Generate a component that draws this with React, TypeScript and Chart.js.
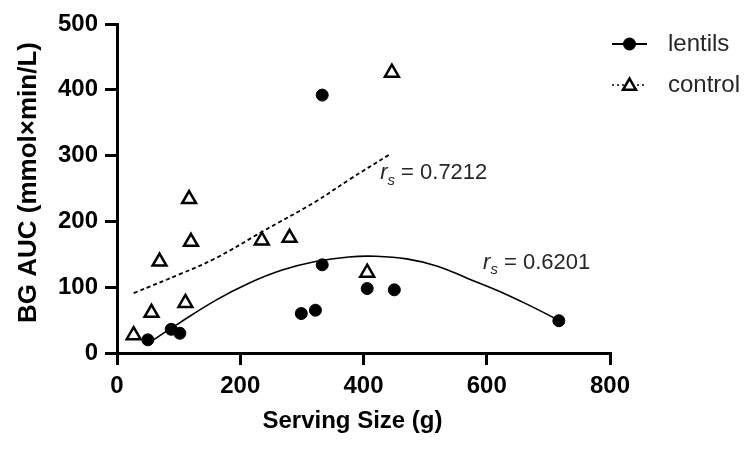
import React, { useEffect, useRef } from "react";
import { Chart, registerables } from "chart.js";

Chart.register(...registerables);

// ---- data ----
const seriesNames = ["lentils", "control"];
const lentilX = [50, 88, 102, 299, 322, 333, 333, 406, 450, 717];
const lentilY = [20, 36, 30, 60, 65, 134, 392, 98, 96, 49];
const controlX = [27, 56, 69, 111, 117, 120, 235, 280, 406, 446];
const controlY = [27, 61, 139, 76, 234, 169, 171, 175, 122, 426];
// fitted curves
const lentilFitX = [51, 95, 160, 214, 268, 322, 376, 420, 470, 520, 570, 620, 670, 712];
const lentilFitY = [15, 42, 80, 106, 126, 139, 146, 147, 143, 132, 113, 94, 72, 52];
const controlFitX = [27, 105, 160, 235, 322, 376, 441];
const controlFitY = [91, 121, 144, 184, 230, 263, 301];
// correlation labels
const rsValues = ["0.7212", "0.6201"];
const rsAnchorX = [427, 594];
const rsAnchorY = [273, 137];
// axes
const xTicks = [0, 200, 400, 600, 800];
const yTicks = [0, 100, 200, 300, 400, 500];
const xTitle = "Serving Size (g)";
const yTitle = "BG AUC (mmol×min/L)";

const FAMILY = "'Liberation Sans', Arial, Helvetica, sans-serif";

const zip = (xs: number[], ys: number[]) => xs.map((x, i) => ({ x, y: ys[i] }));

function drawTriangle(ctx: CanvasRenderingContext2D, x: number, y: number, r: number) {
  ctx.beginPath();
  let rad = 0;
  ctx.moveTo(x + Math.sin(rad) * r, y - Math.cos(rad) * r);
  rad += (2 * Math.PI) / 3;
  ctx.lineTo(x + Math.sin(rad) * r, y - Math.cos(rad) * r);
  rad += (2 * Math.PI) / 3;
  ctx.lineTo(x + Math.sin(rad) * r, y - Math.cos(rad) * r);
  ctx.closePath();
  ctx.fillStyle = "#fff";
  ctx.fill();
  ctx.lineWidth = 2.5;
  ctx.strokeStyle = "#000";
  ctx.stroke();
}

function text(
  ctx: CanvasRenderingContext2D,
  s: string,
  x: number,
  y: number,
  font: string,
  color: string,
  align: CanvasTextAlign = "left"
) {
  ctx.font = font;
  ctx.fillStyle = color;
  ctx.textBaseline = "middle";
  ctx.textAlign = align;
  ctx.fillText(s, x, y);
  return ctx.measureText(s).width;
}

const overlayPlugin = {
  id: "overlay",
  afterDraw(chart: any) {
    const ctx: CanvasRenderingContext2D = chart.ctx;
    const area = chart.chartArea;
    const xs = chart.scales.x;
    const ys = chart.scales.y;
    ctx.save();

    // axis titles
    text(ctx, xTitle, (area.left + area.right) / 2 - 11, 421, `bold 24px ${FAMILY}`, "#000", "center");
    ctx.save();
    ctx.translate(29, (area.top + area.bottom) / 2 - 6);
    ctx.rotate(-Math.PI / 2);
    text(ctx, yTitle, 0, 0, `bold 26px ${FAMILY}`, "#000", "center");
    ctx.restore();

    // legend
    const lx0 = area.right + 2;
    const lx1 = area.right + 37;
    const lmid = (lx0 + lx1) / 2;
    const rowY = [area.top + 20, area.top + 61];
    const textX = area.right + 58;

    ctx.strokeStyle = "#000";
    ctx.lineWidth = 2;
    ctx.setLineDash([]);
    ctx.beginPath();
    ctx.moveTo(lx0, rowY[0]);
    ctx.lineTo(lx1, rowY[0]);
    ctx.stroke();
    ctx.beginPath();
    ctx.arc(lmid, rowY[0], 6.5, 0, Math.PI * 2);
    ctx.fillStyle = "#000";
    ctx.fill();

    ctx.setLineDash([2, 3]);
    ctx.lineWidth = 1.5;
    ctx.beginPath();
    ctx.moveTo(lx0, rowY[1]);
    ctx.lineTo(lx1, rowY[1]);
    ctx.stroke();
    ctx.setLineDash([]);
    drawTriangle(ctx, lmid, rowY[1] + 1, 7.5);

    text(ctx, seriesNames[0], textX, rowY[0], `24px ${FAMILY}`, "#262626");
    text(ctx, seriesNames[1], textX, rowY[1], `24px ${FAMILY}`, "#262626");

    // r_s annotations
    for (let i = 0; i < rsValues.length; i++) {
      let cx = xs.getPixelForValue(rsAnchorX[i]);
      const py = ys.getPixelForValue(rsAnchorY[i]);
      cx += text(ctx, "r", cx, py, `italic 22px ${FAMILY}`, "#262626");
      cx += text(ctx, "s", cx, py + 7, `italic 15px ${FAMILY}`, "#262626");
      text(ctx, " = " + rsValues[i], cx, py, `22px ${FAMILY}`, "#262626");
    }
    ctx.restore();
  },
};

export default function App() {
  const ref = useRef<HTMLCanvasElement | null>(null);

  useEffect(() => {
    if (!ref.current) return;
    Chart.defaults.font.family = FAMILY;
    const axisCommon = {
      type: "linear" as const,
      grid: {
        display: true,
        drawOnChartArea: false,
        drawTicks: true,
        tickLength: 12,
        lineWidth: 3,
        color: "#000",
        tickColor: "#000",
      },
      border: { display: true, width: 3, color: "#000" },
    };
    const chart = new Chart(ref.current, {
      type: "scatter",
      data: {
        datasets: [
          {
            label: seriesNames[0],
            data: zip(lentilX, lentilY),
            pointStyle: "circle",
            pointRadius: 6,
            pointBorderWidth: 1,
            backgroundColor: "#000",
            borderColor: "#000",
            showLine: false,
          },
          {
            label: seriesNames[1],
            data: zip(controlX, controlY),
            pointStyle: "triangle",
            pointRadius: 8,
            pointBorderWidth: 2.5,
            backgroundColor: "#fff",
            borderColor: "#000",
            showLine: false,
          },
          {
            label: "lentils fit",
            data: zip(lentilFitX, lentilFitY),
            showLine: true,
            pointRadius: 0,
            borderColor: "#000",
            borderWidth: 1.6,
            tension: 0.4,
            fill: false,
          } as any,
          {
            label: "control fit",
            data: zip(controlFitX, controlFitY),
            showLine: true,
            pointRadius: 0,
            borderColor: "#000",
            borderWidth: 1.8,
            borderDash: [4, 3],
            tension: 0.4,
            fill: false,
          } as any,
        ],
      },
      options: {
        responsive: false,
        animation: false,
        devicePixelRatio: 1,
        layout: { padding: { top: 24, right: 145, left: 0, bottom: 0 } },
        plugins: {
          legend: { display: false },
          tooltip: { enabled: false },
        },
        scales: {
          x: {
            ...axisCommon,
            min: 0,
            max: 800,
            afterBuildTicks: (s: any) => {
              s.ticks = xTicks.map((v) => ({ value: v }));
            },
            afterFit: (s: any) => {
              s.height = 97;
            },
            ticks: {
              color: "#000",
              font: { size: 24, weight: "bold" },
              padding: 7,
              maxRotation: 0,
            },
            title: { display: false, text: xTitle },
          },
          y: {
            ...axisCommon,
            min: 0,
            max: 500,
            afterBuildTicks: (s: any) => {
              s.ticks = yTicks.map((v) => ({ value: v }));
            },
            afterFit: (s: any) => {
              s.width = 117;
            },
            ticks: {
              color: "#000",
              font: { size: 24, weight: "bold" },
              padding: 7,
            },
            title: { display: false, text: yTitle },
          },
        },
      } as any,
      plugins: [overlayPlugin],
    });
    return () => chart.destroy();
  }, []);

  return (
    <div
      style={{
        position: "fixed",
        left: 0,
        top: 0,
        width: 755,
        height: 450,
        background: "#fff",
      }}
    >
      <canvas ref={ref} width={755} height={450} style={{ display: "block" }} />
    </div>
  );
}
